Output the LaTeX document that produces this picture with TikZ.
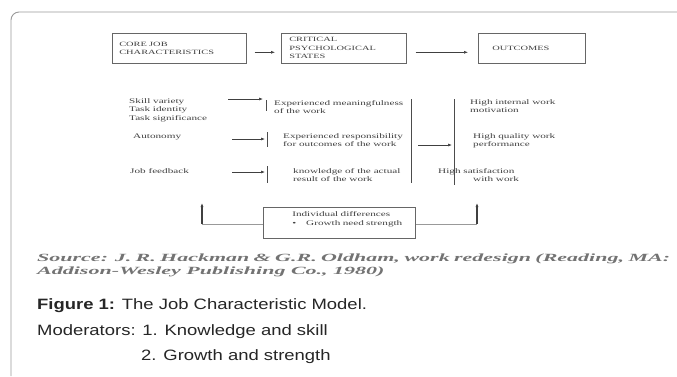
\documentclass[tikz,border=0pt]{standalone}
\usepackage{fontspec}
\setmainfont{Liberation Sans}
\newfontfamily\figfont[FakeStretch=1.6]{Liberation Serif}
\newfontfamily\srcfont[FakeStretch=2.0]{Liberation Serif}
\newfontfamily\capfont[FakeStretch=1.23]{Liberation Sans}
\usetikzlibrary{arrows.meta,positioning,calc}
\begin{document}
\begin{tikzpicture}[x=1pt,y=-1pt,font=\figfont\fontsize{7}{8.5}\selectfont,text=black!75,hbox/.style={draw=black!60,line width=.6pt,minimum height=30pt,anchor=north west,align=left,inner ysep=0pt,font=\figfont\fontsize{6.5}{8.5}\selectfont},txt/.style={anchor=west,align=left,inner sep=0pt},ln/.style={black!70,line width=.6pt},arr/.style={-{Latex[length=4pt,width=3pt]},black!75,line width=.6pt},src/.style={anchor=base west,inner sep=0pt,text=black!55,font=\srcfont\bfseries\itshape\fontsize{11}{13}\selectfont},captxt/.style={anchor=base west,inner sep=0pt,text=black!85,font=\capfont\fontsize{15}{18}\selectfont}]
\path[use as bounding box,fill=white](0,0)rectangle(677,376);
\draw[black!40,line width=.9pt,rounded corners=8pt](677,12)--(11,12)--(11,376);
% top row
\node[hbox,text width=120pt,inner xsep=7pt](core) at (112,33){CORE JOB\\CHARACTERISTICS};
\node[hbox,text width=109pt,inner xsep=8pt](critical) at (281,33){CRITICAL\\PSYCHOLOGICAL\\STATES};
\node[hbox,text width=79pt,inner xsep=14pt](outcomes) at (478,33){OUTCOMES};
\draw[arr,shorten <=8pt,shorten >=6pt]([yshift=-4pt]core.east)--([yshift=-4pt]critical.west);
\draw[arr,shorten <=9pt,shorten >=10pt]([yshift=-4pt]critical.east)--([yshift=-4pt]outcomes.west);
% three rows
\node[txt](skill) at (129,110){Skill variety\\Task identity\\Task significance};
\node[txt](meaning) at (274,107){Experienced meaningfulness\\of the work};
\node[txt](motiv) at (470,106){High internal work\\motivation};
\node[txt](autonomy) at (133,137){Autonomy};
\node[txt](respons) at (283,140){Experienced responsibility\\for outcomes of the work};
\node[txt](quality) at (473,141){High quality work\\performance};
\node[txt](feedback) at (130,171){Job feedback};
\node[txt](knowledge) at (293,175){knowledge of the actual\\result of the work};
\node[txt](satisf) at (438,175){High satisfaction\\\hspace*{35pt}with work};
\coordinate (b1) at (266,100);\coordinate (b1e) at (266,111);
\coordinate (b2) at (267,132);\coordinate (b2e) at (267,147);
\coordinate (b3) at (267,166);\coordinate (b3e) at (267,183);
\coordinate (v1) at (411,99);\coordinate (v1e) at (411,183);
\coordinate (v2) at (454,99);\coordinate (v2e) at (454,185);
\coordinate (t1) at (228,99);\coordinate (t2) at (232,139);\coordinate (t3) at (232,172);\coordinate (t4) at (418,145);
\draw[ln](b1)--(b1e);\draw[ln](b2)--(b2e);\draw[ln](b3)--(b3e);\draw[ln](v1)--(v1e);\draw[ln](v2)--(v2e);
\draw[arr,shorten >=3pt](t1)--(t1-|b1);\draw[arr,shorten >=2pt](t2)--(t2-|b2);\draw[arr,shorten >=2pt](t3)--(t3-|b3);\draw[arr,shorten >=2pt](t4)--(t4-|v2);
% moderator
\node[draw=black!60,line width=.6pt,anchor=north west,minimum width=152pt,minimum height=31pt,text width=134pt,inner xsep=9pt,inner ysep=0pt,align=left](indiv) at (263,207){\hspace*{20pt}Individual differences\\\hspace*{20pt}\textbullet\hspace{10pt}Growth need strength\\\mbox{}};
\coordinate (fl) at (202,224);\coordinate (flt) at (202,203);\coordinate (fr) at (477,224);\coordinate (frt) at (477,203);
\draw[black!40,line width=.6pt](indiv.west|-fl)--(fl);\draw[black!40,line width=.6pt](indiv.east|-fr)--(fr);
\draw[arr,line width=1.3pt](fl)--(flt);\draw[arr,line width=1.3pt](fr)--(frt);
% source and caption
\node[src](src1) at (37,261){\makebox[633pt][s]{Source: J. R. Hackman \& G.R. Oldham, work redesign (Reading, MA:}};
\node[src](src2) at (37,274){Addison-Wesley Publishing Co., 1980)};
\node[captxt](fig) at (37,309){\textbf{Figure 1:} The Job Characteristic Model.};
\node[captxt](moder) at (37,335){Moderators: 1. Knowledge and skill};
\node[captxt](growth) at (141,360){2. Growth and strength};
\end{tikzpicture}
\end{document}
